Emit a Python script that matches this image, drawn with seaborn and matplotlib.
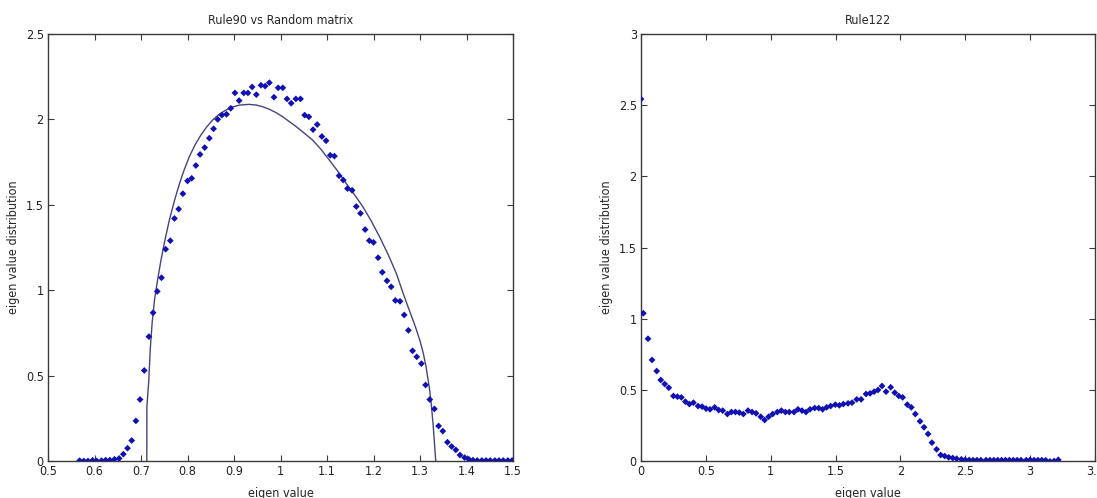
import matplotlib
matplotlib.use("Agg")
import matplotlib.pyplot as plt
import seaborn as sns
import pandas as pd

# ---------------- data: left panel (Rule90 vs Random matrix) ----------------
rule90_x = [0.568, 0.577, 0.586, 0.596, 0.605, 0.615, 0.624, 0.633, 0.643, 0.653,
            0.662, 0.671, 0.680, 0.689, 0.698, 0.707, 0.717, 0.726, 0.735, 0.744,
            0.753, 0.763, 0.772, 0.781, 0.790, 0.800, 0.809, 0.818, 0.827, 0.837,
            0.847, 0.856, 0.865, 0.874, 0.884, 0.893, 0.902, 0.911, 0.921, 0.930,
            0.939, 0.948, 0.958, 0.967, 0.976, 0.986, 0.995, 1.005, 1.014, 1.023,
            1.033, 1.043, 1.052, 1.061, 1.070, 1.079, 1.089, 1.098, 1.107, 1.116,
            1.126, 1.135, 1.144, 1.154, 1.163, 1.172, 1.182, 1.191, 1.200, 1.210,
            1.219, 1.229, 1.238, 1.247, 1.257, 1.266, 1.275, 1.284, 1.293, 1.303,
            1.312, 1.321, 1.331, 1.340, 1.349, 1.359, 1.368, 1.377, 1.386, 1.396,
            1.405, 1.414, 1.423, 1.433, 1.442, 1.451, 1.461, 1.470, 1.479, 1.489,
            1.498]
rule90_y = [0.002, 0.000, 0.000, 0.004, 0.000, 0.002, 0.005, 0.005, 0.010, 0.015,
            0.040, 0.075, 0.120, 0.235, 0.360, 0.530, 0.728, 0.868, 0.993, 1.073,
            1.240, 1.290, 1.420, 1.475, 1.565, 1.640, 1.655, 1.730, 1.795, 1.835,
            1.890, 1.945, 2.000, 2.025, 2.030, 2.065, 2.155, 2.110, 2.155, 2.155,
            2.190, 2.145, 2.200, 2.195, 2.215, 2.130, 2.185, 2.185, 2.120, 2.095,
            2.120, 2.120, 2.025, 2.015, 1.940, 1.970, 1.900, 1.875, 1.790, 1.785,
            1.670, 1.645, 1.595, 1.585, 1.490, 1.450, 1.355, 1.290, 1.280, 1.190,
            1.105, 1.055, 1.020, 0.940, 0.935, 0.855, 0.765, 0.645, 0.610, 0.570,
            0.445, 0.360, 0.305, 0.205, 0.175, 0.110, 0.085, 0.065, 0.035, 0.020,
            0.010, 0.005, 0.003, 0.003, 0.003, 0.003, 0.003, 0.003, 0.003, 0.003,
            0.003]

# theoretical random-matrix density
theory_x = [0.7125, 0.7127, 0.7168, 0.7200, 0.7240, 0.7290, 0.7360, 0.7430, 0.7520,
            0.7610, 0.7720, 0.7830, 0.7930, 0.8040, 0.8160, 0.8290, 0.8410, 0.8540,
            0.8680, 0.8830, 0.8970, 0.9120, 0.9330, 0.9480, 0.9620, 0.9770, 0.9910,
            1.0050, 1.0190, 1.0340, 1.0500, 1.0690, 1.0870, 1.1050, 1.1230, 1.1410,
            1.1590, 1.1770, 1.1950, 1.2130, 1.2310, 1.2490, 1.2630, 1.2770, 1.2900,
            1.3000, 1.3070, 1.3130, 1.3200, 1.3240, 1.3280, 1.3310, 1.3330, 1.3340]
theory_y = [0.000, 0.318, 0.474, 0.660, 0.810, 0.943, 1.065, 1.177, 1.300,
            1.411, 1.525, 1.626, 1.706, 1.782, 1.850, 1.909, 1.955, 1.996,
            2.030, 2.055, 2.073, 2.084, 2.088, 2.084, 2.074, 2.058, 2.039,
            2.015, 1.987, 1.957, 1.922, 1.879, 1.825, 1.762, 1.697, 1.626,
            1.560, 1.489, 1.406, 1.313, 1.212, 1.099, 0.988, 0.882, 0.787,
            0.703, 0.632, 0.552, 0.430, 0.340, 0.220, 0.110, 0.030, 0.000]

# ---------------- data: right panel (Rule122) ----------------
rule122_x = [0.000, 0.018, 0.054, 0.085, 0.121, 0.152, 0.183, 0.214, 0.250, 0.281,
             0.311, 0.342, 0.373, 0.404, 0.440, 0.471, 0.502, 0.532, 0.568, 0.599,
             0.630, 0.666, 0.697, 0.728, 0.758, 0.789, 0.825, 0.856, 0.887, 0.923,
             0.953, 0.984, 1.015, 1.051, 1.082, 1.113, 1.143, 1.180, 1.210, 1.241,
             1.272, 1.303, 1.339, 1.370, 1.400, 1.431, 1.462, 1.498, 1.529, 1.560,
             1.596, 1.627, 1.663, 1.697, 1.735, 1.766, 1.797, 1.827, 1.858, 1.889,
             1.925, 1.956, 1.987, 2.017, 2.053, 2.084, 2.115, 2.151, 2.182, 2.213,
             2.243, 2.279, 2.310, 2.341, 2.372, 2.403, 2.433, 2.470, 2.500, 2.530,
             2.560, 2.590, 2.620, 2.660, 2.690, 2.720, 2.750, 2.780, 2.810, 2.840,
             2.870, 2.900, 2.930, 2.970, 3.000, 3.030, 3.060, 3.090, 3.120, 3.153,
             3.185, 3.217]
rule122_y = [2.543, 1.038, 0.859, 0.710, 0.632, 0.569, 0.541, 0.515, 0.457, 0.452,
             0.447, 0.417, 0.400, 0.410, 0.386, 0.382, 0.368, 0.363, 0.377, 0.358,
             0.354, 0.330, 0.344, 0.344, 0.340, 0.330, 0.354, 0.344, 0.335, 0.311,
             0.288, 0.311, 0.330, 0.344, 0.354, 0.344, 0.344, 0.344, 0.363, 0.354,
             0.344, 0.363, 0.372, 0.372, 0.363, 0.377, 0.386, 0.396, 0.391, 0.400,
             0.405, 0.410, 0.433, 0.433, 0.471, 0.475, 0.487, 0.499, 0.527, 0.487,
             0.518, 0.480, 0.457, 0.447, 0.396, 0.377, 0.330, 0.279, 0.237, 0.190,
             0.129, 0.082, 0.042, 0.035, 0.026, 0.021, 0.016, 0.012, 0.008, 0.007,
             0.006, 0.006, 0.006, 0.006, 0.006, 0.006, 0.006, 0.006, 0.006, 0.006,
             0.006, 0.006, 0.006, 0.006, 0.008, 0.006, 0.006, 0.006, 0.005, -0.003,
             0.000, 0.008]

left_xticks = [0.5, 0.6, 0.7, 0.8, 0.9, 1.0, 1.1, 1.2, 1.3, 1.4, 1.5]
left_xticklabels = ["0.5", "0.6", "0.7", "0.8", "0.9", "1", "1.1", "1.2", "1.3", "1.4", "1.5"]
left_yticks = [0, 0.5, 1, 1.5, 2, 2.5]
left_yticklabels = ["0", "0.5", "1", "1.5", "2", "2.5"]
right_xticks = [0, 0.5, 1, 1.5, 2, 2.5, 3, 3.5]
right_xticklabels = ["0", "0.5", "1", "1.5", "2", "2.5", "3", "3.5"]
right_yticks = [0, 0.5, 1, 1.5, 2, 2.5, 3]
right_yticklabels = ["0", "0.5", "1", "1.5", "2", "2.5", "3"]

# ---------------- styling ----------------
sns.set_style("ticks")
plt.rcParams["font.family"] = ["DejaVu Sans Condensed", "Liberation Sans Narrow", "DejaVu Sans"]
plt.rcParams["font.stretch"] = "condensed"
plt.rcParams["font.size"] = 9

POINT_COLOR = "#1010b4"
LINE_COLOR = "#45457e"
SPINE_COLOR = "#3a3a3a"

fig = plt.figure(figsize=(10.97, 4.98), dpi=100)
W, H = 1097, 498
ax1 = fig.add_axes([48 / W, 37 / H, 465 / W, 427 / H])
ax2 = fig.add_axes([641 / W, 37 / H, 454 / W, 427 / H])

df_left = pd.DataFrame({"x": rule90_x, "y": rule90_y})
df_theory = pd.DataFrame({"x": theory_x, "y": theory_y})
df_right = pd.DataFrame({"x": rule122_x, "y": rule122_y})

sns.lineplot(data=df_theory, x="x", y="y", ax=ax1, sort=False, estimator=None,
             color=LINE_COLOR, linewidth=1.0, zorder=2)
sns.scatterplot(data=df_left, x="x", y="y", ax=ax1, marker="D", s=12,
                color=POINT_COLOR, edgecolor="none", linewidth=0, zorder=3)
sns.scatterplot(data=df_right, x="x", y="y", ax=ax2, marker="D", s=12,
                color=POINT_COLOR, edgecolor="none", linewidth=0, zorder=3)

def style(ax, xlim, ylim, xt, xtl, yt, ytl, title):
    ax.set_xlim(*xlim)
    ax.set_ylim(*ylim)
    ax.set_xticks(xt)
    ax.set_xticklabels(xtl)
    ax.set_yticks(yt)
    ax.set_yticklabels(ytl)
    ax.set_title(title, fontsize=9, pad=7)
    ax.set_xlabel("eigen value", fontsize=9, labelpad=6)
    ax.set_ylabel("eigen value distribution", fontsize=9, labelpad=4)
    ax.tick_params(direction="in", length=4, width=0.8, top=True, right=True,
                   labelsize=9, pad=3, colors=SPINE_COLOR, labelcolor="#222222")
    for s in ax.spines.values():
        s.set_visible(True)
        s.set_color(SPINE_COLOR)
        s.set_linewidth(1.0)

style(ax1, (0.5, 1.5), (0, 2.5), left_xticks, left_xticklabels,
      left_yticks, left_yticklabels, "Rule90 vs Random matrix")
style(ax2, (0, 3.5), (0, 3), right_xticks, right_xticklabels,
      right_yticks, right_yticklabels, "Rule122")

fig.savefig("out.png", dpi=100)
